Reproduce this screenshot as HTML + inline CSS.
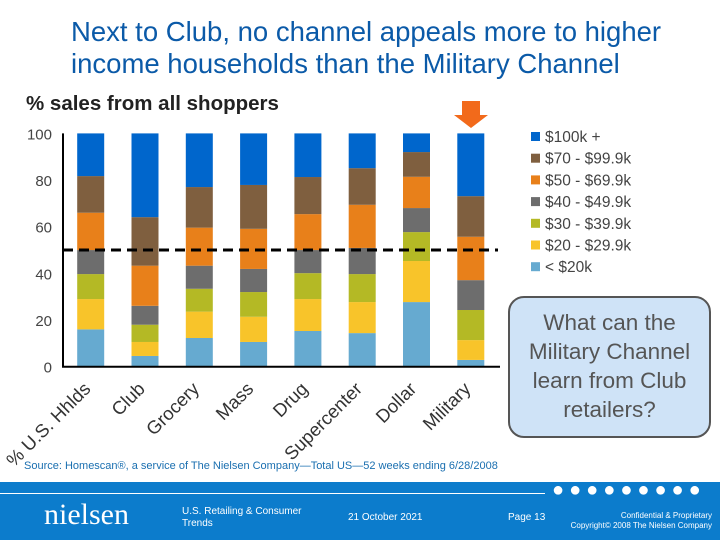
<!DOCTYPE html>
<html><head><meta charset="utf-8">
<style>
body{margin:0;width:720px;height:540px;overflow:hidden;background:#fff;font-family:"Liberation Sans",sans-serif;position:relative}
.t{position:absolute}
</style></head><body>
<div class="t" style="left:71px;top:16px;font-size:27.5px;line-height:32px;color:#0b5aa8;white-space:nowrap">Next to Club, no channel appeals more to higher<br>income households than the Military Channel</div>
<div class="t" style="left:26px;top:92px;font-size:20.5px;font-weight:bold;color:#222">% sales from all shoppers</div>
<svg id="chart" width="720" height="540" style="position:absolute;left:0;top:0"></svg>
<div class="t" style="left:508px;top:296px;width:203px;height:142px;border:2px solid #555;border-radius:16px;background:#cfe3f7;color:#555;font-size:22.5px;line-height:29px;text-align:center;box-sizing:border-box;padding-top:10px">What can the Military Channel learn from Club retailers?</div>
<div class="t" style="left:24px;top:460px;font-size:11px;color:#1a6fb0">Source: Homescan®, a service of The Nielsen Company—Total US—52 weeks ending 6/28/2008</div>
<div class="t" style="left:0;top:482px;width:720px;height:58px;background:#0c7ccc">
  <div style="position:absolute;left:0;top:11px;width:545px;height:1px;background:#fff"></div>
  <div style="position:absolute;left:552px;top:-3px;font-size:20px;color:#fff;letter-spacing:5px">●●●●●●●●●</div>
  <div style="position:absolute;left:44px;top:16px;font-family:'Liberation Serif',serif;font-size:30px;color:#fff">nielsen</div>
  <div style="position:absolute;left:182px;top:24px;font-size:10px;color:#fff;line-height:12px">U.S. Retailing &amp; Consumer<br>Trends</div>
  <div style="position:absolute;left:348px;top:30px;font-size:10px;color:#fff">21 October 2021</div>
  <div style="position:absolute;left:508px;top:30px;font-size:10px;color:#fff">Page 13</div>
  <div style="position:absolute;right:8px;top:29px;font-size:8px;color:#fff;text-align:right;line-height:10px">Confidential &amp; Proprietary<br>Copyright© 2008 The Nielsen Company</div>
</div>
<script>
const categories=["% U.S. Hhlds","Club","Grocery","Mass","Drug","Supercenter","Dollar","Military"];
const seriesNames=["< $20k","$20 - $29.9k","$30 - $39.9k","$40 - $49.9k","$50 - $69.9k","$70 - $99.9k","$100k +"];
const colors=["#66aad0","#f8c42a","#b4b925","#6d6d6d","#e8801a","#7f5f3f","#0066cc"];
const s0=[16,4.6,12.3,10.6,15.3,14.4,27.7,2.9];
const s1=[13,6,11.3,10.8,13.7,13.3,17.6,8.5];
const s2=[10.7,7.4,9.8,10.6,11.1,12,12.4,12.9];
const s3=[10.3,8.1,9.9,9.9,9.9,11.2,10.3,12.8];
const s4=[16,17.2,16.3,17.2,15.4,18.5,13.4,18.6];
const s5=[15.7,20.8,17.4,18.8,15.9,15.7,10.6,17.4];
const s6=[18.3,35.9,23,22.1,18.7,14.9,8,26.9];
const series=[s0,s1,s2,s3,s4,s5,s6];
const yTicks=[0,20,40,60,80,100];
const refLine=50;
const NS="http://www.w3.org/2000/svg";
const svg=document.getElementById('chart');
const y=v=>366.7-v*2.333;
const x=i=>90.7+i*54.3;
const bw=27;
function mk(t,a){const e=document.createElementNS(NS,t);for(const k in a)e.setAttribute(k,a[k]);svg.appendChild(e);return e;}
yTicks.forEach(v=>{const e=mk('text',{x:52,y:y(v)+6,'text-anchor':'end','font-size':15,fill:'#444','font-family':'Liberation Sans'});e.textContent=v;

});
categories.forEach((c,i)=>{let cum=0;series.forEach((s,k)=>{const v=s[i];const r=mk('rect',{x:x(i)-bw/2,y:y(cum+v),width:bw,height:v*2.333,fill:colors[k]});

cum+=v;});
const t=mk('text',{transform:`translate(${x(i)+1},${390}) rotate(-45)`,'text-anchor':'end','font-size':18.5,fill:'#333','font-family':'Liberation Sans'});t.textContent=c;

});
const ax=mk('path',{d:`M63 ${y(100)} V${y(0)} H500`,stroke:'#000','stroke-width':2,fill:'none'});


const dl=mk('line',{x1:63,x2:498,y1:y(refLine),y2:y(refLine),stroke:'#000','stroke-width':3,'stroke-dasharray':'10 6'});


const ar=mk('path',{d:`M462 101 h18 v14 h8 l-17 13 l-17 -13 h8z`,fill:'#f26a1b'});


for(let k=6;k>=0;k--){const r=6-k;const yy=138+r*21.7;
const sq=mk('rect',{x:531,y:yy-6,width:9,height:9,fill:colors[k]});


const t=mk('text',{x:545,y:yy+4,'font-size':15.5,fill:'#444','font-family':'Liberation Sans'});t.textContent=seriesNames[k];

}
</script>
</body></html>
